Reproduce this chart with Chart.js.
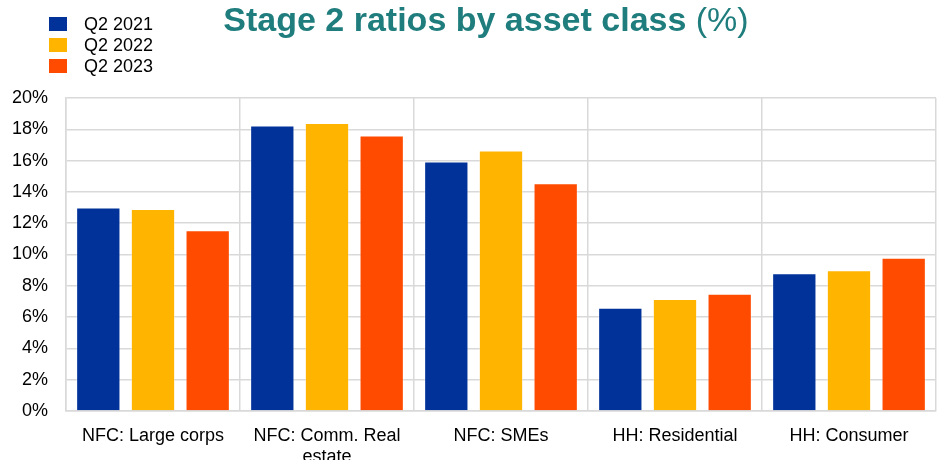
<!DOCTYPE html>
<html>
<head>
<meta charset="utf-8">
<script src="https://cdn.jsdelivr.net/npm/chart.js@4.4.1/dist/chart.umd.min.js"></script>
<style>
  html, body { margin: 0; padding: 0; background: #fff; }
  #wrap { width: 944px; height: 460px; }
</style>
</head>
<body>
<div id="wrap"><canvas id="grafico_stage2"></canvas></div>
<script>
// ----------------------- Stage 2 ratios by asset class --------------------------------------------//

var categorias = [ "NFC: Large corps", ["NFC: Comm. Real", "estate"], "NFC: SMEs", "HH: Residential", "HH: Consumer" ];
var series = [ "Q2 2021", "Q2 2022", "Q2 2023" ];
var q2_2021 = [ 13.0, 18.25, 15.95, 6.6, 8.8 ];
var q2_2022 = [ 12.9, 18.4, 16.65, 7.15, 9.0 ];
var q2_2023 = [ 11.55, 17.6, 14.55, 7.5, 9.8 ];
var cores = [ "#003299", "#FFB400", "#FF4B00" ];
var ticksY = [ 0, 2, 4, 6, 8, 10, 12, 14, 16, 18, 20 ];

var fonte = "'Liberation Sans', Arial, sans-serif";
Chart.defaults.font.family = fonte;

// title + legend drawn by hand, the built-in ones can't mix bold/regular or sit side by side
var cabecalho = {
    id: "cabecalho",
    afterDraw: function (chart) {
        var ctx = chart.ctx;
        ctx.save();
        ctx.textBaseline = "alphabetic";
        ctx.fillStyle = "#1f7d7d";
        var t1 = "Stage 2 ratios by asset class ";
        var t2 = "(%)";
        ctx.font = "bold 34px " + fonte;
        var w1 = ctx.measureText(t1).width;
        ctx.font = "34px " + fonte;
        var w2 = ctx.measureText(t2).width;
        var x0 = 486 - (w1 + w2) / 2;
        ctx.font = "bold 34px " + fonte;
        ctx.fillText(t1, x0, 31);
        ctx.font = "34px " + fonte;
        ctx.fillText(t2, x0 + w1, 31);

        ctx.font = "18px " + fonte;
        ctx.textBaseline = "middle";
        for (var i = 0; i < series.length; i++) {
            var y = 24 + i * 21;
            ctx.fillStyle = cores[i];
            ctx.fillRect(49, y - 7, 18, 14);
            ctx.fillStyle = "#000";
            ctx.fillText(series[i], 84, y + 1);
        }
        ctx.restore();
    }
};

var dados = {
    labels: categorias,
    datasets: [
        { label: series[0], data: q2_2021, backgroundColor: cores[0] },
        { label: series[1], data: q2_2022, backgroundColor: cores[1] },
        { label: series[2], data: q2_2023, backgroundColor: cores[2] }
    ]
};

var opcoes = {
    responsive: true,
    maintainAspectRatio: false,
    animation: false,
    layout: { padding: { top: 98, right: 8, left: 0, bottom: 0 } },
    datasets: { bar: { categoryPercentage: 0.943, barPercentage: 0.81, borderWidth: 1, borderColor: "rgba(255,255,255,0.35)" } },
    plugins: { legend: { display: false }, title: { display: false }, tooltip: { enabled: false } },
    scales: {
        x: {
            grid: { color: "#d9d9d9", lineWidth: 1.5, drawTicks: false, offset: true },
            border: { color: "#d9d9d9", width: 1.5 },
            ticks: { color: "#000", font: { size: 18 }, padding: 14, maxRotation: 0, autoSkip: false },
            afterFit: function (s) { s.height = 49; }
        },
        y: {
            min: 0, max: 20,
            afterBuildTicks: function (s) { s.ticks = ticksY.map(function (v) { return { value: v }; }); },
            grid: { color: "#d9d9d9", lineWidth: 1.5, drawTicks: false },
            border: { color: "#d9d9d9", width: 1.5 },
            ticks: { color: "#000", font: { size: 18 }, padding: 18, callback: function (v) { return v + "%"; } },
            afterFit: function (s) { s.width = 66; }
        }
    }
};

var ctx = document.getElementById("grafico_stage2").getContext("2d");
var grafico_stage2 = new Chart(ctx, {
    type: "bar",
    data: dados,
    options: opcoes,
    plugins: [cabecalho]
});
</script>
</body>
</html>
